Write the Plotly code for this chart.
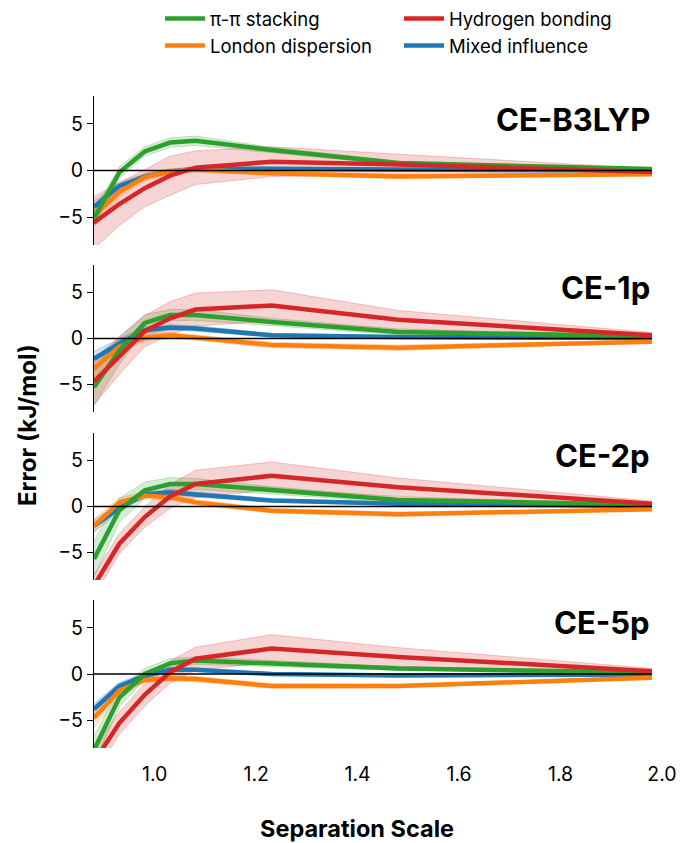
import plotly.graph_objects as go

# Separation scale (fraction of equilibrium distance)
x_scale = [0.90, 0.95, 1.00, 1.05, 1.10, 1.25, 1.50, 2.00]
x_ticks = [1.0, 1.2, 1.4, 1.6, 1.8, 2.0]
x_tick_text = ["1.0", "1.2", "1.4", "1.6", "1.8", "2.0"]
y_ticks = [-5, 0, 5]
y_tick_text = ["\u22125", "0", "5"]

panel_names = ["CE-B3LYP", "CE-1p", "CE-2p", "CE-5p"]
series_names = ["π-π stacking", "London dispersion", "Hydrogen bonding", "Mixed influence"]

# CE-B3LYP: mean error and spread (kJ/mol)
b3lyp_pi = [-5.15, -0.2, 2.05, 3.0, 3.2, 2.2, 0.8, 0.15]
b3lyp_pi_sd = [0.8, 0.6, 0.5, 0.5, 0.5, 0.3, 0.2, 0.1]
b3lyp_london = [-4.9, -2.3, -0.7, -0.1, 0.1, -0.3, -0.65, -0.4]
b3lyp_london_sd = [1.0, 0.6, 0.4, 0.3, 0.3, 0.2, 0.2, 0.1]
b3lyp_hbond = [-5.6, -3.6, -1.9, -0.55, 0.3, 0.95, 0.65, -0.15]
b3lyp_hbond_sd = [2.8, 2.3, 2.0, 2.1, 1.8, 1.6, 1.1, 0.35]
b3lyp_mixed = [-3.9, -1.65, -0.65, -0.1, 0.15, 0.2, 0.1, 0.0]
b3lyp_mixed_sd = [0.6, 0.4, 0.3, 0.2, 0.2, 0.15, 0.1, 0.05]

# CE-1p
ce1p_pi = [-5.3, -1.3, 1.7, 2.55, 2.55, 1.8, 0.7, 0.25]
ce1p_pi_sd = [2.0, 1.5, 0.9, 0.6, 0.6, 0.4, 0.3, 0.15]
ce1p_london = [-3.3, -0.9, 0.1, 0.35, 0.1, -0.7, -1.0, -0.35]
ce1p_london_sd = [1.0, 0.6, 0.4, 0.3, 0.3, 0.3, 0.3, 0.15]
ce1p_hbond = [-4.7, -1.9, 0.8, 2.2, 3.15, 3.6, 2.05, 0.35]
ce1p_hbond_sd = [2.5, 2.0, 1.7, 1.8, 1.8, 1.7, 1.0, 0.3]
ce1p_mixed = [-2.2, -0.55, 0.9, 1.2, 1.1, 0.35, 0.15, 0.05]
ce1p_mixed_sd = [0.8, 0.5, 0.4, 0.3, 0.3, 0.2, 0.15, 0.05]

# CE-2p
ce2p_pi = [-5.7, -0.4, 1.75, 2.45, 2.45, 1.75, 0.7, 0.2]
ce2p_pi_sd = [2.0, 1.3, 0.9, 0.7, 0.6, 0.4, 0.3, 0.15]
ce2p_london = [-2.1, 0.45, 1.2, 1.0, 0.45, -0.45, -0.85, -0.3]
ce2p_london_sd = [0.7, 0.5, 0.4, 0.3, 0.3, 0.25, 0.25, 0.1]
ce2p_hbond = [-8.6, -4.05, -1.15, 1.1, 2.45, 3.35, 2.1, 0.3]
ce2p_hbond_sd = [1.2, 1.1, 1.1, 1.3, 1.5, 1.5, 1.0, 0.3]
ce2p_mixed = [-2.1, -0.15, 1.3, 1.55, 1.3, 0.65, 0.3, 0.05]
ce2p_mixed_sd = [0.7, 0.4, 0.3, 0.3, 0.3, 0.2, 0.15, 0.05]

# CE-5p
ce5p_pi = [-8.2, -2.55, 0.0, 1.15, 1.45, 1.15, 0.6, 0.15]
ce5p_pi_sd = [1.5, 1.0, 0.6, 0.5, 0.4, 0.3, 0.2, 0.1]
ce5p_london = [-4.75, -1.8, -0.65, -0.45, -0.55, -1.3, -1.3, -0.4]
ce5p_london_sd = [1.0, 0.6, 0.3, 0.3, 0.3, 0.25, 0.2, 0.1]
ce5p_hbond = [-9.5, -5.3, -2.25, 0.2, 1.65, 2.75, 1.85, 0.3]
ce5p_hbond_sd = [1.5, 1.2, 1.2, 1.2, 1.25, 1.5, 1.0, 0.3]
ce5p_mixed = [-3.8, -1.3, -0.2, 0.45, 0.45, 0.0, -0.15, -0.05]
ce5p_mixed_sd = [0.6, 0.4, 0.3, 0.25, 0.2, 0.15, 0.1, 0.05]

panels = [
    {"pi": (b3lyp_pi, b3lyp_pi_sd), "london": (b3lyp_london, b3lyp_london_sd),
     "hbond": (b3lyp_hbond, b3lyp_hbond_sd), "mixed": (b3lyp_mixed, b3lyp_mixed_sd)},
    {"pi": (ce1p_pi, ce1p_pi_sd), "london": (ce1p_london, ce1p_london_sd),
     "hbond": (ce1p_hbond, ce1p_hbond_sd), "mixed": (ce1p_mixed, ce1p_mixed_sd)},
    {"pi": (ce2p_pi, ce2p_pi_sd), "london": (ce2p_london, ce2p_london_sd),
     "hbond": (ce2p_hbond, ce2p_hbond_sd), "mixed": (ce2p_mixed, ce2p_mixed_sd)},
    {"pi": (ce5p_pi, ce5p_pi_sd), "london": (ce5p_london, ce5p_london_sd),
     "hbond": (ce5p_hbond, ce5p_hbond_sd), "mixed": (ce5p_mixed, ce5p_mixed_sd)},
]

keys = ["pi", "london", "hbond", "mixed"]
colors = {"pi": (44, 160, 44), "london": (255, 127, 14), "hbond": (214, 39, 40), "mixed": (31, 119, 180)}
names = dict(zip(keys, series_names))
legend_of = {"pi": "legend", "london": "legend", "hbond": "legend2", "mixed": "legend2"}
rank_of = {"pi": 1, "london": 2, "hbond": 1, "mixed": 2}
draw_order = ["mixed", "london", "pi", "hbond"]

FONT = "Inter, 'Noto Sans', sans-serif"
W, H = 680, 843
ML, MR, MT, MB = 94, 28, 96, 95
plot_w = W - ML - MR
plot_h = H - MT - MB

# panel vertical extents in page pixels (top, bottom)
panel_px = [(96, 245), (265, 412), (433, 580), (600, 748)]


def frac(py):
    return (H - MB - py) / plot_h


def xfrac(px):
    return (px - ML) / plot_w


def rgba(c, a):
    return f"rgba({c[0]},{c[1]},{c[2]},{a})"


fig = go.Figure()

for i, data in enumerate(panels):
    ax = "" if i == 0 else str(i + 1)
    xa, ya = "x" + ax, "y" + ax
    # uncertainty bands
    for k in draw_order:
        mean, sd = data[k]
        upper = [m + s for m, s in zip(mean, sd)]
        lower = [m - s for m, s in zip(mean, sd)]
        fig.add_trace(go.Scatter(
            x=x_scale + x_scale[::-1], y=upper + lower[::-1],
            fill="toself", fillcolor=rgba(colors[k], 0.2),
            line=dict(color=rgba(colors[k], 0.25), width=1),
            mode="lines", hoverinfo="skip", showlegend=False,
            xaxis=xa, yaxis=ya))
    # mean lines
    for k in draw_order:
        mean, _ = data[k]
        fig.add_trace(go.Scatter(
            x=x_scale, y=mean, mode="lines",
            line=dict(color=rgba(colors[k], 1), width=4.5),
            name=names[k], legend=legend_of[k],
            showlegend=(i == 0), legendrank=rank_of[k],
            xaxis=xa, yaxis=ya))
    # zero reference line
    fig.add_shape(type="line", xref=xa, yref=ya, x0=0.9, x1=2.0, y0=0, y1=0,
                  line=dict(color="black", width=1.5), layer="above")
    # panel label
    fig.add_annotation(text=f"<b>{panel_names[i]}</b>", xref=f"{xa} domain", yref=f"{ya} domain",
                       x=1.0, y=0.845, xanchor="right", yanchor="middle", showarrow=False,
                       font=dict(family=FONT, size=31, color="black"))

legend_style = dict(yanchor="top", xanchor="left", orientation="v",
                    bgcolor="rgba(0,0,0,0)", font=dict(size=18.5),
                    tracegroupgap=0, traceorder="normal", itemwidth=40)

layout = dict(
    width=W, height=H,
    margin=dict(l=ML, r=MR, t=MT, b=MB, autoexpand=False),
    paper_bgcolor="white", plot_bgcolor="white",
    font=dict(family=FONT, size=18, color="black"),
    showlegend=True,
    legend=dict(x=xfrac(160), y=frac(0), **legend_style),
    legend2=dict(x=xfrac(399), y=frac(0), **legend_style),
)

for i, (top, bot) in enumerate(panel_px):
    ax = "" if i == 0 else str(i + 1)
    layout["xaxis" + ax] = dict(
        domain=[0, 1], anchor="y" + ax, range=[0.9, 2.0], automargin=False,
        showgrid=False, zeroline=False, showline=False,
        tickvals=x_ticks, ticktext=x_tick_text, ticks="",
        showticklabels=(i == 3), ticklabelstandoff=12, ticklabelshift=10,
        tickfont=dict(size=19.5), matches=None if i == 0 else "x")
    layout["yaxis" + ax] = dict(
        domain=[frac(bot), frac(top)], anchor="x" + ax, range=[-8, 8], automargin=False,
        showgrid=False, zeroline=False, showline=True, linecolor="black", linewidth=1.3,
        ticks="outside", ticklen=6, tickwidth=1.3, tickcolor="black",
        tickvals=y_ticks, ticktext=y_tick_text, tickfont=dict(size=19.5))

fig.update_layout(**layout)

fig.add_annotation(text="<b>Error (kJ/mol)</b>", xref="paper", yref="paper",
                   x=xfrac(27), y=frac(425), textangle=-90,
                   showarrow=False, xanchor="center", yanchor="middle",
                   font=dict(family=FONT, size=24, color="black"))
fig.add_annotation(text="<b>Separation Scale</b>", xref="paper", yref="paper",
                   x=xfrac(357), y=frac(828),
                   showarrow=False, xanchor="center", yanchor="middle",
                   font=dict(family=FONT, size=23.5, color="black"))

fig.write_html("out.html")
